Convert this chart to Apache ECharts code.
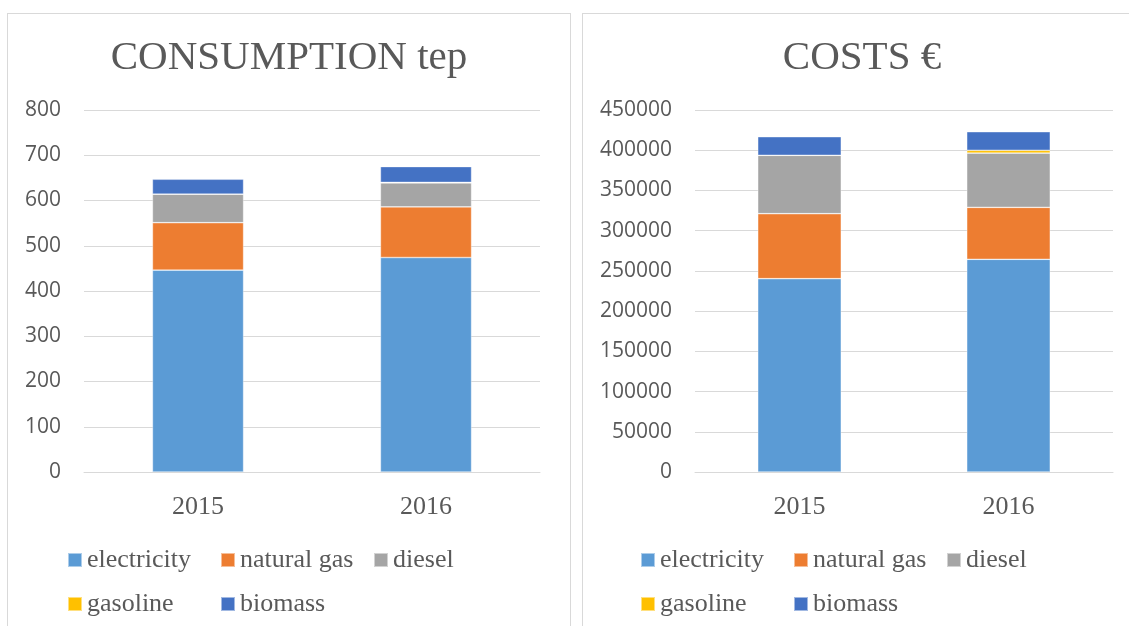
<!DOCTYPE html>
<html>
<head>
    <meta charset="UTF-8">
    <title>Consumption and costs</title>
    <script src="https://cdn.jsdelivr.net/npm/echarts@6/dist/echarts.min.js"></script>
    <style>
        body { margin: 0; background: #fff; overflow: hidden; width: 1129px; height: 626px; position: relative; }
        .panel { position: absolute; top: 13px; height: 640px; border: 1px solid #d9d9d9; box-sizing: border-box; }
        #left { left: 7px; width: 564px; }
        #right { left: 582px; width: 560px; }
    </style>
</head>
<body>
    <div id="left" class="panel"></div>
    <div id="right" class="panel"></div>

    <script type="text/javascript">
        // anni e fonti
        var years = ['2015', '2016'];
        var sources = ['electricity', 'natural gas', 'diesel', 'gasoline', 'biomass'];
        var colors = ['#5B9BD5', '#ED7D31', '#A5A5A5', '#FFC000', '#4472C4'];

        // consumi (tep)
        var consElectricity = [446, 474];
        var consNaturalGas = [105, 112];
        var consDiesel = [63, 53];
        var consGasoline = [0, 1];
        var consBiomass = [33, 35];

        // costi (euro)
        var costElectricity = [240300, 264400];
        var costNaturalGas = [80800, 64600];
        var costDiesel = [72600, 67500];
        var costGasoline = [0, 3400];
        var costBiomass = [23100, 23100];

        var serifFont = '"Liberation Serif", "DejaVu Serif", serif';
        var textColor = '#595959';

        function makeOption(title, data, yMax, yStep, gridLeft, gridWidth, legendLeft) {
            var series = sources.map(function (name, i) {
                return {
                    name: name,
                    type: 'bar',
                    stack: 'total',
                    barWidth: '40%',
                    data: data[i],
                    itemStyle: { color: colors[i], borderColor: 'rgba(255,255,255,0.5)', borderWidth: 0.7 }
                };
            });
            return {
                animation: false,
                color: colors,
                title: {
                    text: title,
                    left: 'center',
                    top: 19,
                    textStyle: { fontFamily: serifFont, fontSize: 41, fontWeight: 'normal', color: textColor }
                },
                legend: {
                    data: sources,
                    left: legendLeft,
                    top: 529,
                    padding: 0,
                    width: 470,
                    itemGap: 10,
                    itemWidth: 14,
                    itemHeight: 14,
                    icon: 'rect',
                    textStyle: {
                        fontFamily: serifFont, fontSize: 26, color: textColor,
                        width: 123, overflow: 'none', lineHeight: 34
                    }
                },
                grid: { left: gridLeft, top: 96, width: gridWidth, height: 362 },
                xAxis: {
                    type: 'category',
                    data: years,
                    axisTick: { show: false },
                    axisLine: { lineStyle: { color: '#d9d9d9', width: 1 } },
                    axisLabel: { margin: 22, fontFamily: serifFont, fontSize: 26, color: textColor }
                },
                yAxis: {
                    type: 'value',
                    min: 0,
                    max: yMax,
                    interval: yStep,
                    axisLine: { show: false },
                    axisTick: { show: false },
                    axisLabel: {
                        margin: 23, fontFamily: '"Open Sans", sans-serif', fontSize: 21, color: textColor,
                        formatter: function (v) { return String(v); }
                    },
                    splitLine: { lineStyle: { color: '#d9d9d9', width: 1 } }
                },
                series: series
            };
        }

        var leftChart = echarts.init(document.getElementById('left'));
        leftChart.setOption(makeOption('CONSUMPTION tep',
            [consElectricity, consNaturalGas, consDiesel, consGasoline, consBiomass],
            800, 100, 76, 456, 59));

        var rightChart = echarts.init(document.getElementById('right'));
        rightChart.setOption(makeOption('COSTS €',
            [costElectricity, costNaturalGas, costDiesel, costGasoline, costBiomass],
            450000, 50000, 112, 418, 57));
    </script>
</body>
</html>
